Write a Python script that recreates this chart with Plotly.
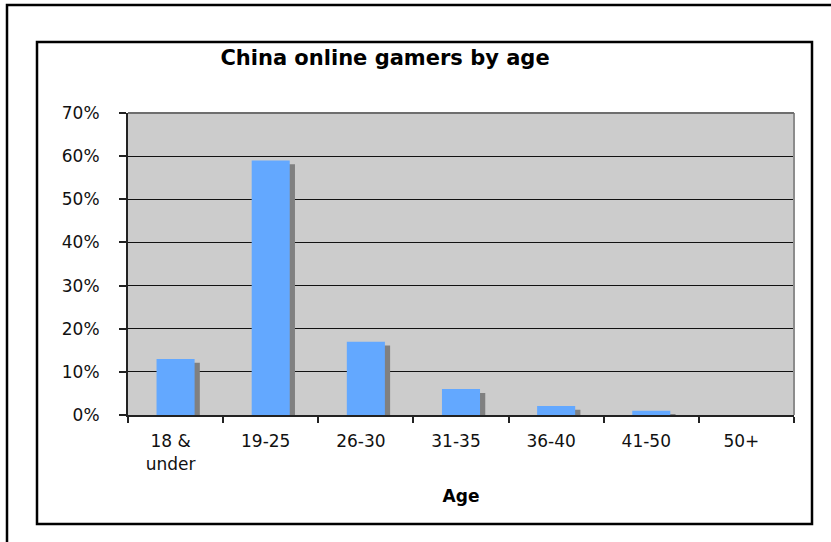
import plotly.graph_objects as go

# Share of China's online gamers in each age group
age_groups = ["18 &<br>under", "19-25", "26-30", "31-35", "36-40", "41-50", "50+"]
share = [0.13, 0.59, 0.17, 0.06, 0.021, 0.01, 0.0]

BAR_COLOR = "#63A8FF"
SHADOW_COLOR = "#808080"
BAR_WIDTH = 0.4
SHADOW_DX = 0.055    # horizontal shadow offset (category units)
SHADOW_DY = 0.009    # vertical shadow drop (value units)

W, H = 831, 542
L, R, T, B = 128, 37, 113, 127   # plot-area margins in px
pw, ph = W - L - R, H - T - B


def px_x(px):
    return (px - L) / pw


def px_y(py):
    return (H - B - py) / ph


fig = go.Figure()

# drop shadow behind each column
fig.add_trace(go.Bar(
    x=age_groups, y=[v - SHADOW_DY for v in share],
    width=BAR_WIDTH, offset=-BAR_WIDTH / 2 + SHADOW_DX,
    marker=dict(color=SHADOW_COLOR, line=dict(width=0)),
    hoverinfo="skip", showlegend=False,
))
fig.add_trace(go.Bar(
    x=age_groups, y=share,
    width=BAR_WIDTH, offset=-BAR_WIDTH / 2,
    marker=dict(color=BAR_COLOR, line=dict(width=0)),
    showlegend=False,
))

tick_font = dict(family="DejaVu Sans", size=17, color="#111111")

fig.update_layout(
    width=W, height=H,
    margin=dict(l=L, r=R, t=T, b=B, pad=0),
    paper_bgcolor="white",
    plot_bgcolor="#CCCCCC",
    barmode="overlay",
    title=dict(
        text="<b>China online gamers by age</b>",
        font=dict(family="DejaVu Sans", size=21, color="black"),
        x=385 / W, xanchor="center", xref="container",
        y=1 - 58 / H, yanchor="middle", yref="container",
    ),
    xaxis=dict(
        showline=True, linecolor="#222222", linewidth=2,
        ticks="outside", ticklen=6, tickwidth=1.5, tickcolor="#222222",
        tickson="boundaries",
        tickfont=tick_font,
        ticklabelstandoff=10,
        ticklabelshift=-5,
        showgrid=False,
        title=dict(text="<b>Age</b>",
                   font=dict(family="DejaVu Sans", size=17, color="black"),
                   standoff=18),
        range=[-0.5, 6.5],
    ),
    yaxis=dict(
        range=[0, 0.7], dtick=0.1, tickformat=".0%",
        showline=True, linecolor="#222222", linewidth=2,
        ticks="outside", ticklen=7, tickwidth=1.5, tickcolor="#222222",
        tickfont=tick_font,
        ticklabelstandoff=16,
        showgrid=True, gridcolor="#111111", gridwidth=1,
        zeroline=False,
    ),
    shapes=[
        # plot-area right edge
        dict(type="line", xref="paper", yref="paper",
             x0=1, x1=1, y0=0, y1=1,
             line=dict(color="#8C8C8C", width=2)),
        # top edge of the plot area
        dict(type="line", xref="paper", yref="paper",
             x0=0, x1=1, y0=1, y1=1,
             line=dict(color="#6E6E6E", width=2)),
        # chart-area frame
        dict(type="rect", xref="paper", yref="paper",
             x0=px_x(37), x1=px_x(812), y0=px_y(524), y1=px_y(42),
             line=dict(color="black", width=2.5), layer="below"),
        # outer frame
        dict(type="rect", xref="paper", yref="paper",
             x0=px_x(7), x1=px_x(845), y0=px_y(560), y1=px_y(5),
             line=dict(color="black", width=2.5), layer="below"),
    ],
)

fig.write_html("out.html")
